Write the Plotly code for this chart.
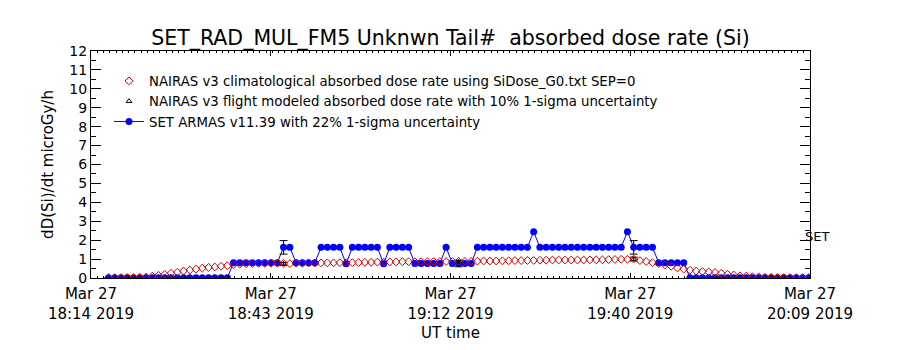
import pandas as pd
import plotly.graph_objects as go

# ---------------- data ----------------
START = pd.Timestamp("2019-03-27 18:16:48")   # first 1-minute sample
X_RANGE = ["2019-03-27 18:14:00", "2019-03-27 20:09:00"]

ARMAS = ([0.01] * 20 + [0.81] * 8 + [1.62] * 2 + [0.81] * 4 + [1.62] * 4 + [0.75]
         + [1.62] * 5 + [0.75] + [1.62] * 4 + [0.76] * 5 + [1.62] + [0.76] * 4
         + [1.62] * 9 + [2.45] + [1.62] * 14 + [2.45] + [1.62] * 4 + [0.81] * 5
         + [0.01] * 20)

NAIRAS_CLIM = [0.02, 0.02, 0.02, 0.03, 0.03, 0.04, 0.05, 0.10, 0.14, 0.19,
               0.25, 0.30, 0.37, 0.42, 0.47, 0.52, 0.56, 0.58, 0.62, 0.65,
               0.70, 0.73, 0.75, 0.76, 0.77, 0.77, 0.78, 0.78, 0.78, 0.76,
               0.78, 0.78, 0.79, 0.79, 0.80, 0.80, 0.80, 0.81, 0.81, 0.81,
               0.82, 0.83, 0.83, 0.84, 0.84, 0.85, 0.85, 0.86, 0.86, 0.86,
               0.86, 0.86, 0.87, 0.87, 0.87, 0.87, 0.88, 0.88, 0.88, 0.89,
               0.90, 0.90, 0.90, 0.91, 0.91, 0.92, 0.92, 0.93, 0.93, 0.94,
               0.94, 0.95, 0.95, 0.95, 0.95, 0.95, 0.95, 0.96, 0.96, 0.96,
               0.97, 0.98, 0.99, 0.99, 1.00, 0.92, 0.87, 0.81, 0.76, 0.69,
               0.62, 0.53, 0.47, 0.41, 0.37, 0.34, 0.32, 0.29, 0.25, 0.20,
               0.16, 0.12, 0.10, 0.07, 0.06, 0.04, 0.04, 0.03, 0.03, 0.02,
               0.02, 0.02, 0.02]

ERR_IDX = [28, 56, 84]                 # samples that carry error bars
FLIGHT_VAL = [0.75, 0.85, 1.00]        # NAIRAS flight-modeled at those samples
ARMAS_UNC = 22                         # percent, 1-sigma
FLIGHT_UNC = 10                        # percent, 1-sigma

TICK_DATE = ["Mar 27", "Mar 27", "Mar 27", "Mar 27", "Mar 27"]
TICK_TIME = ["18:14 2019", "18:43 2019", "19:12 2019", "19:40 2019", "20:09 2019"]

NAMES = ["NAIRAS v3 climatological absorbed dose rate using SiDose_G0.txt SEP=0",
         "NAIRAS v3 flight modeled absorbed dose rate with 10% 1-sigma uncertainty",
         "SET ARMAS v11.39 with 22% 1-sigma uncertainty"]

# ---------------- derived ----------------
times = START + pd.to_timedelta(range(len(ARMAS)), unit="min")
err_t = [times[i] for i in ERR_IDX]
err_v = [ARMAS[i] for i in ERR_IDX]
tickpos = pd.date_range(X_RANGE[0], X_RANGE[1], periods=len(TICK_TIME))
ticktext = [d + "<br>" + t for d, t in zip(TICK_DATE, TICK_TIME)]

FONT = "DejaVu Sans"
fig = go.Figure()

fig.add_trace(go.Scatter(
    x=times, y=ARMAS, mode="lines+markers", name=NAMES[2],
    line=dict(color="#0000ff", width=1),
    marker=dict(symbol="circle", size=7, color="#0000ff")))

fig.add_trace(go.Scatter(
    x=err_t, y=err_v, mode="markers", showlegend=False,
    marker=dict(size=1, color="rgba(0,0,0,0)"),
    error_y=dict(type="percent", value=ARMAS_UNC, color="black", thickness=1, width=4)))

fig.add_trace(go.Scatter(
    x=err_t, y=FLIGHT_VAL, mode="markers", name=NAMES[1],
    marker=dict(symbol="triangle-up-open", size=5, color="black", line=dict(width=1)),
    error_y=dict(type="percent", value=FLIGHT_UNC, color="black", thickness=1, width=4)))

fig.add_trace(go.Scatter(
    x=times, y=NAIRAS_CLIM, mode="markers", name=NAMES[0],
    marker=dict(symbol="diamond-open", size=6, color="#c80000", line=dict(width=1))))

fig.add_annotation(x=0.99, xref="paper", y=2.17, yref="y", text="SET",
                   showarrow=False, xanchor="left", yanchor="middle",
                   font=dict(family=FONT, size=13, color="black"))

fig.update_layout(
    width=900, height=350,
    margin=dict(l=91, r=90, t=51, b=72, autoexpand=False),
    paper_bgcolor="white", plot_bgcolor="white",
    font=dict(family=FONT, color="black"),
    title=dict(text="SET_RAD_MUL_FM5 Unknwn Tail#  absorbed dose rate (Si)",
               x=0.5, xref="paper", xanchor="center",
               y=1 - 38 / 350, yref="container", yanchor="middle",
               font=dict(family=FONT, size=20.5, color="black"), automargin=False),
    legend=dict(x=0.025, y=0.935, xanchor="left", yanchor="top",
                traceorder="reversed", bgcolor="rgba(0,0,0,0)",
                font=dict(family=FONT, size=13.3, color="black"),
                itemwidth=30, tracegroupgap=0),
    showlegend=True,
)

fig.update_xaxes(
    type="date", range=X_RANGE, automargin=False,
    tickvals=list(tickpos), ticktext=ticktext,
    ticks="inside", ticklen=5, tickcolor="black", tickwidth=1,
    minor=dict(dtick=60000, ticks="inside", ticklen=2, tickcolor="black"),
    showline=True, linecolor="black", linewidth=1, mirror="ticks",
    showgrid=False, zeroline=False, ticklabelstandoff=2,
    tickfont=dict(family=FONT, size=15, color="black"),
    title=dict(text="UT time", font=dict(family=FONT, size=15, color="black"), standoff=5),
)

fig.update_yaxes(
    range=[0, 12], tickvals=list(range(0, 13)), automargin=False,
    ticks="inside", ticklen=10, tickcolor="black", tickwidth=1,
    minor=dict(dtick=0.5, ticks="inside", ticklen=5, tickcolor="black"),
    showline=True, linecolor="black", linewidth=1, mirror="ticks",
    showgrid=False, zeroline=False,
    tickfont=dict(family=FONT, size=14, color="black"),
    title=dict(text="dD(Si)/dt microGy/h", font=dict(family=FONT, size=15, color="black"), standoff=12),
)

fig.write_html("out.html")
